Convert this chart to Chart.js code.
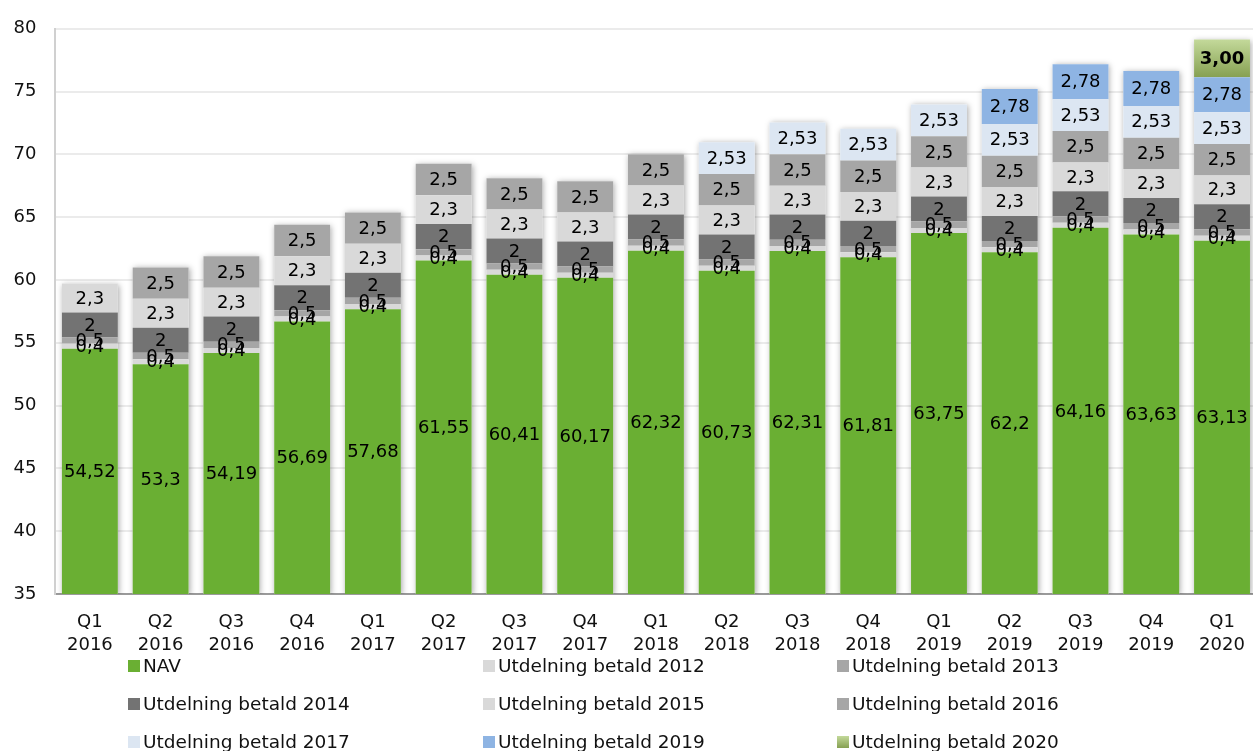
<!DOCTYPE html>
<html>
<head>
<meta charset="utf-8">
<script src="https://cdn.jsdelivr.net/npm/chart.js@4.4.0/dist/chart.umd.min.js"></script>
<style>
    html, body { margin: 0; padding: 0; background: #fff; }
    #wrap { position: relative; width: 1253px; height: 751px; overflow: hidden; font-family: "DejaVu Sans", Verdana, sans-serif; }
    #chart { position: absolute; left: 0; top: 0; }
    .leg { position: absolute; font-size: 18.5px; color: #111; line-height: 20px; white-space: nowrap; }
    .leg i { position: absolute; left: -15px; top: 4px; width: 12px; height: 12px; }
</style>
</head>
<body>
<div id="wrap">
    <canvas id="chart" width="1262" height="751"></canvas>
    <div id="legend"></div>
</div>
<script>
const categories = [
    ["Q1", "2016"], ["Q2", "2016"], ["Q3", "2016"], ["Q4", "2016"],
    ["Q1", "2017"], ["Q2", "2017"], ["Q3", "2017"], ["Q4", "2017"],
    ["Q1", "2018"], ["Q2", "2018"], ["Q3", "2018"], ["Q4", "2018"],
    ["Q1", "2019"], ["Q2", "2019"], ["Q3", "2019"], ["Q4", "2019"],
    ["Q1", "2020"]
];

const nav = [54.52, 53.3, 54.19, 56.69, 57.68, 61.55, 60.41, 60.17, 62.32, 60.73, 62.31, 61.81, 63.75, 62.2, 64.16, 63.63, 63.13];
const div2012 = [0.4, 0.4, 0.4, 0.4, 0.4, 0.4, 0.4, 0.4, 0.4, 0.4, 0.4, 0.4, 0.4, 0.4, 0.4, 0.4, 0.4];
const div2013 = [0.5, 0.5, 0.5, 0.5, 0.5, 0.5, 0.5, 0.5, 0.5, 0.5, 0.5, 0.5, 0.5, 0.5, 0.5, 0.5, 0.5];
const div2014 = [2, 2, 2, 2, 2, 2, 2, 2, 2, 2, 2, 2, 2, 2, 2, 2, 2];
const div2015 = [2.3, 2.3, 2.3, 2.3, 2.3, 2.3, 2.3, 2.3, 2.3, 2.3, 2.3, 2.3, 2.3, 2.3, 2.3, 2.3, 2.3];
const div2016 = [null, 2.5, 2.5, 2.5, 2.5, 2.5, 2.5, 2.5, 2.5, 2.5, 2.5, 2.5, 2.5, 2.5, 2.5, 2.5, 2.5];
const div2017 = [null, null, null, null, null, null, null, null, null, 2.53, 2.53, 2.53, 2.53, 2.53, 2.53, 2.53, 2.53];
const div2019 = [null, null, null, null, null, null, null, null, null, null, null, null, null, 2.78, 2.78, 2.78, 2.78];
const div2020 = [null, null, null, null, null, null, null, null, null, null, null, null, null, null, null, null, 3.00];

const yTicks = [35, 40, 45, 50, 55, 60, 65, 70, 75, 80];

const seriesNames = ["NAV", "Utdelning betald 2012", "Utdelning betald 2013", "Utdelning betald 2014",
    "Utdelning betald 2015", "Utdelning betald 2016", "Utdelning betald 2017", "Utdelning betald 2019", "Utdelning betald 2020"];
const seriesData = [nav, div2012, div2013, div2014, div2015, div2016, div2017, div2019, div2020];
const seriesColors = ["#6aaf33", "#d9d9d9", "#a6a6a6", "#737373", "#d9d9d9", "#a6a6a6", "#dce6f2", "#8eb4e3", "#a9c47a"];

const FONT = "'DejaVu Sans', Verdana, sans-serif";

function stackTop(i) {
    return seriesData.reduce((s, arr) => s + (arr[i] || 0), 0);
}

function fmt(v, dsIndex) {
    if (dsIndex === 8) {
        return v.toFixed(2).replace(".", ",");
    }
    return String(v).replace(".", ",");
}

function gradient2020(ctx) {
    const chart = ctx.chart;
    const y = chart.scales.y;
    if (!chart.chartArea || !y || ctx.dataIndex === undefined) {
        return seriesColors[8];
    }
    const top = stackTop(ctx.dataIndex);
    const g = chart.ctx.createLinearGradient(0, y.getPixelForValue(top), 0, y.getPixelForValue(top - 3));
    g.addColorStop(0, "#c3d99a");
    g.addColorStop(1, "#86a052");
    return g;
}

const shadowPlugin = {
    id: "stackShadow",
    beforeDatasetsDraw(chart) {
        const ctx = chart.ctx;
        const area = chart.chartArea;
        ctx.save();
        ctx.beginPath();
        ctx.rect(area.left, area.top - 10, area.right - area.left, area.bottom - area.top + 10);
        ctx.clip();
        ctx.shadowColor = "rgba(0,0,0,0.35)";
        ctx.shadowBlur = 6;
        ctx.shadowOffsetX = 1;
        ctx.shadowOffsetY = 1;
        ctx.fillStyle = "#ffffff";
        categories.forEach((c, i) => {
            let top = Infinity, bottom = -Infinity, x = 0, w = 0;
            chart.data.datasets.forEach((ds, d) => {
                const el = chart.getDatasetMeta(d).data[i];
                if (!el || ds.data[i] === null) return;
                const p = el.getProps(["x", "y", "base", "width"], true);
                top = Math.min(top, p.y, p.base);
                bottom = Math.max(bottom, p.y, p.base);
                x = p.x; w = p.width;
            });
            bottom = Math.min(bottom, area.bottom);
            ctx.fillRect(x - w / 2, top, w, bottom - top);
        });
        ctx.restore();
    }
};

const labelPlugin = {
    id: "segmentLabels",
    afterDatasetsDraw(chart) {
        const ctx = chart.ctx;
        const area = chart.chartArea;
        ctx.save();
        ctx.textAlign = "center";
        ctx.textBaseline = "middle";
        ctx.fillStyle = "#000";
        chart.data.datasets.forEach((ds, d) => {
            const meta = chart.getDatasetMeta(d);
            meta.data.forEach((el, i) => {
                const v = ds.data[i];
                if (v === null || v === undefined) return;
                const p = el.getProps(["x", "y", "base"], true);
                const a = Math.max(Math.min(p.y, p.base), area.top);
                const b = Math.min(Math.max(p.y, p.base), area.bottom);
                ctx.font = (d === 8 ? "bold " : "") + "18px " + FONT;
                ctx.fillText(fmt(v, d), p.x, (a + b) / 2 + 1);
            });
        });
        ctx.restore();
    }
};

const datasets = seriesData.map((arr, d) => ({
    label: seriesNames[d],
    data: arr,
    backgroundColor: d === 8 ? gradient2020 : seriesColors[d],
    borderWidth: 0,
    barPercentage: 0.79,
    categoryPercentage: 1.0,
    stack: "s"
}));

new Chart(document.getElementById("chart").getContext("2d"), {
    type: "bar",
    data: { labels: categories, datasets },
    options: {
        responsive: false,
        animation: false,
        devicePixelRatio: 1,
        layout: { padding: { top: 24, right: 2.6, left: 0, bottom: 0 } },
        plugins: {
            legend: { display: false },
            tooltip: { enabled: false }
        },
        scales: {
            x: {
                stacked: true,
                grid: { display: false, drawTicks: false },
                border: { color: "#9a9a9a", width: 2 },
                ticks: {
                    color: "#111",
                    font: { family: FONT, size: 18, lineHeight: 1.28 },
                    padding: 17,
                    maxRotation: 0,
                    autoSkip: false
                },
                afterFit(scale) { scale.height = 157; }
            },
            y: {
                stacked: true,
                min: 35,
                max: 80,
                afterBuildTicks(scale) { scale.ticks = yTicks.map((v) => ({ value: v })); },
                grid: { color: "#ebebeb", lineWidth: 2, drawTicks: false },
                border: { color: "#d0d0d0", width: 2 },
                ticks: {
                    color: "#111",
                    font: { family: FONT, size: 18 },
                    padding: 18
                },
                afterFit(scale) { scale.width = 54.5; }
            }
        }
    },
    plugins: [shadowPlugin, labelPlugin]
});

// legend laid out in three columns like the original
const legendCols = [143, 498, 852];
const legendRows = [666, 704, 742];
const legendBox = document.getElementById("legend");
seriesNames.forEach((name, d) => {
    const item = document.createElement("div");
    item.className = "leg";
    item.style.left = legendCols[d % 3] + "px";
    item.style.top = (legendRows[Math.floor(d / 3)] - 10) + "px";
    const sw = d === 8 ? "linear-gradient(#c3d99a, #86a052)" : seriesColors[d];
    item.innerHTML = `<i style="background:${sw}"></i>${name}`;
    legendBox.appendChild(item);
});
</script>
</body>
</html>
